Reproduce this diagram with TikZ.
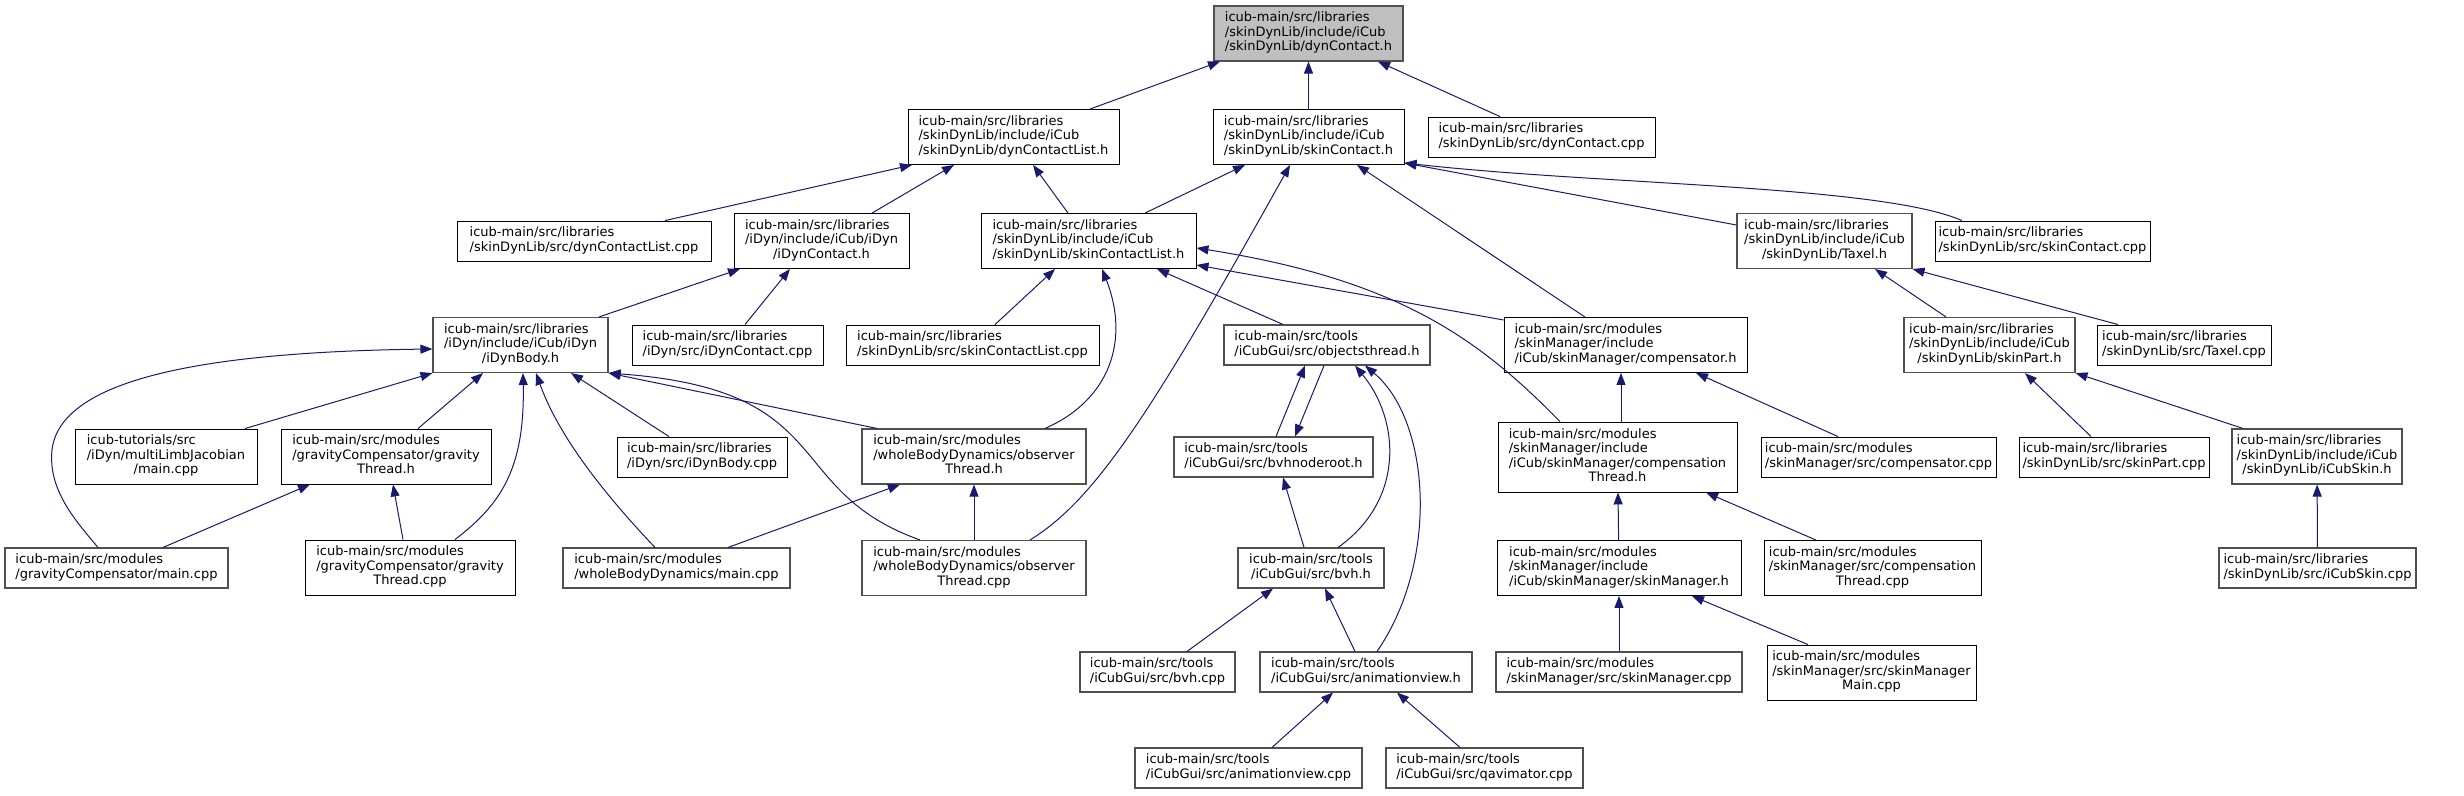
\documentclass[tikz,border=0pt]{standalone}
\usepackage{fontspec}
\setmainfont{DejaVu Sans}
\usepackage{tikz}
\usetikzlibrary{arrows.meta}
\definecolor{incblue}{HTML}{191970}
\definecolor{incgrey}{HTML}{505050}
\definecolor{incroot}{HTML}{BFBFBF}
\newcommand{\ftwo}[2]{\begin{tabular}{@{}l@{}}#1\\\multicolumn{1}{@{}c@{}}{#2}\end{tabular}}
\newcommand{\fthree}[3]{\begin{tabular}{@{}l@{}}#1\\#2\\\multicolumn{1}{@{}c@{}}{#3}\end{tabular}}
\newcommand{\ffour}[4]{\begin{tabular}{@{}l@{}}#1\\#2\\#3\\\multicolumn{1}{@{}c@{}}{#4}\end{tabular}}
\tikzset{
 inc file/.style={draw=black,line width=0.9pt,fill=white,inner sep=0pt,
                  minimum height=40pt,font=\fontsize{13}{14.5}\selectfont},
 inc tall/.style={inc file,minimum height=55pt},
 inc taller/.style={inc file,minimum height=70pt},
 inc grey/.style={draw=incgrey,line width=1.1pt},
 inc root/.style={fill=incroot,draw=incgrey,line width=1.1pt},
 inc edge/.style={draw=incblue,line width=1pt,arrows={Triangle[length=12pt,width=9pt]-}}
}
\begin{document}
\begin{tikzpicture}[x=1pt,y=-1pt]
 \useasboundingbox (0,0) rectangle (2464,795);

 \node[inc tall,inc root,minimum width=189pt] (dynContactH) at (1308.5,33.5) {\fthree{icub-main/src/libraries}{/skinDynLib/include/iCub}{/skinDynLib/dynContact.h}};

 \node[inc tall,minimum width=211pt] (dynContactListH) at (1013.5,137) {\fthree{icub-main/src/libraries}{/skinDynLib/include/iCub}{/skinDynLib/dynContactList.h}};
 \node[inc tall,minimum width=191pt] (skinContactH) at (1308.5,137) {\fthree{icub-main/src/libraries}{/skinDynLib/include/iCub}{/skinDynLib/skinContact.h}};
 \node[inc file,minimum width=227pt] (dynContactCpp) at (1541.5,137) {\ftwo{icub-main/src/libraries}{/skinDynLib/src/dynContact.cpp}};

 \node[inc file,minimum width=254pt] (dynContactListCpp) at (584,241) {\ftwo{icub-main/src/libraries}{/skinDynLib/src/dynContactList.cpp}};
 \node[inc tall,minimum width=175pt] (iDynContactH) at (821.5,241) {\fthree{icub-main/src/libraries}{/iDyn/include/iCub/iDyn}{/iDynContact.h}};
 \node[inc tall,minimum width=215pt] (skinContactListH) at (1088.5,241) {\fthree{icub-main/src/libraries}{/skinDynLib/include/iCub}{/skinDynLib/skinContactList.h}};
 \node[inc tall,inc grey,minimum width=175pt] (taxelH) at (1824.5,241) {\fthree{icub-main/src/libraries}{/skinDynLib/include/iCub}{/skinDynLib/Taxel.h}};
 \node[inc file,minimum width=215pt] (skinContactCpp) at (2042.5,241) {\ftwo{icub-main/src/libraries}{/skinDynLib/src/skinContact.cpp}};

 \node[inc tall,inc grey,minimum width=175pt] (iDynBodyH) at (520.5,345) {\fthree{icub-main/src/libraries}{/iDyn/include/iCub/iDyn}{/iDynBody.h}};
 \node[inc file,minimum width=191pt] (iDynContactCpp) at (727.5,345) {\ftwo{icub-main/src/libraries}{/iDyn/src/iDynContact.cpp}};
 \node[inc file,minimum width=253pt] (skinContactListCpp) at (972.5,345) {\ftwo{icub-main/src/libraries}{/skinDynLib/src/skinContactList.cpp}};
 \node[inc file,inc grey,minimum width=206pt] (objectsThreadH) at (1327,345) {\ftwo{icub-main/src/tools}{/iCubGui/src/objectsthread.h}};
 \node[inc tall,minimum width=243pt] (compensatorH) at (1625.5,345) {\fthree{icub-main/src/modules}{/skinManager/include}{/iCub/skinManager/compensator.h}};
 \node[inc tall,inc grey,minimum width=171pt] (skinPartH) at (1989.5,345) {\fthree{icub-main/src/libraries}{/skinDynLib/include/iCub}{/skinDynLib/skinPart.h}};
 \node[inc file,minimum width=174pt] (taxelCpp) at (2184,345) {\ftwo{icub-main/src/libraries}{/skinDynLib/src/Taxel.cpp}};

 \node[inc tall,minimum width=182pt] (jacobianMain) at (166,456.5) {\fthree{icub-tutorials/src}{/iDyn/multiLimbJacobian}{/main.cpp}};
 \node[inc tall,minimum width=210pt] (gravityThreadH) at (386,456.5) {\fthree{icub-main/src/modules}{/gravityCompensator/gravity}{Thread.h}};
 \node[inc file,minimum width=170pt] (iDynBodyCpp) at (702,457) {\ftwo{icub-main/src/libraries}{/iDyn/src/iDynBody.cpp}};
 \node[inc tall,inc grey,minimum width=224pt] (observerThreadH) at (974,456.5) {\fthree{icub-main/src/modules}{/wholeBodyDynamics/observer}{Thread.h}};
 \node[inc file,inc grey,minimum width=199pt] (bvhNodeRootH) at (1273.5,457) {\ftwo{icub-main/src/tools}{/iCubGui/src/bvhnoderoot.h}};
 \node[inc taller,minimum width=239pt] (compThreadH) at (1617.5,457) {\ffour{icub-main/src/modules}{/skinManager/include}{/iCub/skinManager/compensation}{Thread.h}};
 \node[inc file,minimum width=235pt] (compensatorCpp) at (1878.5,457) {\ftwo{icub-main/src/modules}{/skinManager/src/compensator.cpp}};
 \node[inc file,minimum width=190pt] (skinPartCpp) at (2114,457) {\ftwo{icub-main/src/libraries}{/skinDynLib/src/skinPart.cpp}};
 \node[inc tall,inc grey,minimum width=170pt] (iCubSkinH) at (2317,456.5) {\fthree{icub-main/src/libraries}{/skinDynLib/include/iCub}{/skinDynLib/iCubSkin.h}};

 \node[inc file,inc grey,minimum width=223pt] (gravityMain) at (116.5,568) {\ftwo{icub-main/src/modules}{/gravityCompensator/main.cpp}};
 \node[inc tall,minimum width=210pt] (gravityThreadCpp) at (410,567.5) {\fthree{icub-main/src/modules}{/gravityCompensator/gravity}{Thread.cpp}};
 \node[inc file,inc grey,minimum width=227pt] (wbdMain) at (676.5,568) {\ftwo{icub-main/src/modules}{/wholeBodyDynamics/main.cpp}};
 \node[inc tall,inc grey,minimum width=224pt] (observerThreadCpp) at (974,568) {\fthree{icub-main/src/modules}{/wholeBodyDynamics/observer}{Thread.cpp}};
 \node[inc file,inc grey,minimum width=146pt] (bvhH) at (1311,568) {\ftwo{icub-main/src/tools}{/iCubGui/src/bvh.h}};
 \node[inc tall,minimum width=244pt] (skinManagerH) at (1619,568) {\fthree{icub-main/src/modules}{/skinManager/include}{/iCub/skinManager/skinManager.h}};
 \node[inc tall,minimum width=217pt] (compThreadCpp) at (1872.5,568) {\fthree{icub-main/src/modules}{/skinManager/src/compensation}{Thread.cpp}};
 \node[inc file,inc grey,minimum width=197pt] (iCubSkinCpp) at (2317.5,568) {\ftwo{icub-main/src/libraries}{/skinDynLib/src/iCubSkin.cpp}};

 \node[inc file,inc grey,minimum width=155pt] (bvhCpp) at (1157.5,672) {\ftwo{icub-main/src/tools}{/iCubGui/src/bvh.cpp}};
 \node[inc file,inc grey,minimum width=212pt] (animViewH) at (1366,672) {\ftwo{icub-main/src/tools}{/iCubGui/src/animationview.h}};
 \node[inc file,inc grey,minimum width=246pt] (skinManagerCpp) at (1619,672) {\ftwo{icub-main/src/modules}{/skinManager/src/skinManager.cpp}};
 \node[inc tall,minimum width=209pt] (skinManagerMain) at (1871.5,672.5) {\fthree{icub-main/src/modules}{/skinManager/src/skinManager}{Main.cpp}};

 \node[inc file,inc grey,minimum width=227pt] (animViewCpp) at (1248.5,768) {\ftwo{icub-main/src/tools}{/iCubGui/src/animationview.cpp}};
 \node[inc file,inc grey,minimum width=197pt] (qavimatorCpp) at (1484.5,768) {\ftwo{icub-main/src/tools}{/iCubGui/src/qavimator.cpp}};

 \draw[inc edge] ([xshift=-88.5pt]dynContactH.south) -- ([xshift=76.5pt]dynContactListH.north);
 \draw[inc edge] (dynContactH) -- (skinContactH);
 \draw[inc edge] ([xshift=69.5pt]dynContactH.south) -- ([xshift=-41.5pt]dynContactCpp.north);
 \draw[inc edge] ([xshift=-101.5pt]dynContactListH.south) -- ([xshift=81pt]dynContactListCpp.north);
 \draw[inc edge] ([xshift=-59.5pt]dynContactListH.south) -- ([xshift=50.5pt]iDynContactH.north);
 \draw[inc edge] ([xshift=19.5pt]dynContactListH.south) -- ([xshift=-20.5pt]skinContactListH.north);
 \draw[inc edge] ([xshift=-63.5pt]skinContactH.south) -- ([xshift=56.5pt]skinContactListH.north);
 \draw[inc edge] ([xshift=-18.5pt]skinContactH.south) .. controls (1151,414) and (1095,500) .. ([xshift=56pt]observerThreadCpp.north);
 \draw[inc edge] ([xshift=48.5pt]skinContactH.south) -- ([xshift=-40.5pt]compensatorH.north);
 \draw[inc edge] ([yshift=2pt]skinContactH.south east) -- ([yshift=16pt]taxelH.west);
 \draw[inc edge] ([yshift=2pt]skinContactH.south east) .. controls (1600,185) and (1880,185) .. ([xshift=-80.5pt]skinContactCpp.north);
 \draw[inc edge] ([xshift=-33.5pt]skinContactListH.south) -- ([xshift=22.5pt]skinContactListCpp.north);
 \draw[inc edge] ([xshift=13.5pt]skinContactListH.south) .. controls (1130,340) and (1110,400) .. ([xshift=71pt]observerThreadH.north);
 \draw[inc edge] ([xshift=68.5pt]skinContactListH.south) -- ([xshift=-44pt]objectsThreadH.north);
 \draw[inc edge] ([yshift=-24pt]skinContactListH.east) -- ([yshift=25pt]compensatorH.west);
 \draw[inc edge] ([yshift=-7pt]skinContactListH.east) .. controls (1400,280) and (1480,340) .. ([xshift=-57.5pt]compThreadH.north);
 \draw[inc edge] ([xshift=-81.5pt]iDynContactH.south) -- ([xshift=78.5pt]iDynBodyH.north);
 \draw[inc edge] ([xshift=-31.5pt]iDynContactH.south) -- ([xshift=17.5pt]iDynContactCpp.north);
 \draw[inc edge] ([yshift=-4pt]iDynBodyH.west) .. controls (200,352) and (60,380) .. (52,450) .. controls (48,490) and (75,520) .. ([xshift=-18.5pt]gravityMain.north);
 \draw[inc edge] (iDynBodyH.south west) -- ([xshift=79pt]jacobianMain.north);
 \draw[inc edge] ([xshift=-37.5pt]iDynBodyH.south) -- ([xshift=32pt]gravityThreadH.north);
 \draw[inc edge] ([xshift=2.5pt]iDynBodyH.south) .. controls (525,470) and (500,505) .. ([xshift=45pt]gravityThreadCpp.north);
 \draw[inc edge] ([xshift=15.5pt]iDynBodyH.south) .. controls (560,440) and (610,500) .. ([xshift=-21.5pt]wbdMain.north);
 \draw[inc edge] ([xshift=50.5pt]iDynBodyH.south) -- ([xshift=-33pt]iDynBodyCpp.north);
 \draw[inc edge] (iDynBodyH.south east) -- ([xshift=-97pt]observerThreadH.north);
 \draw[inc edge] (iDynBodyH.south east) .. controls (840,390) and (780,490) .. ([xshift=-54pt]observerThreadCpp.north);
 \draw[inc edge] ([xshift=-76pt]gravityThreadH.south) -- ([xshift=46.5pt]gravityMain.north);
 \draw[inc edge] ([xshift=7pt]gravityThreadH.south) -- ([xshift=-7pt]gravityThreadCpp.north);
 \draw[inc edge] ([xshift=-74pt]observerThreadH.south) -- ([xshift=51.5pt]wbdMain.north);
 \draw[inc edge] (observerThreadH) -- (observerThreadCpp);
 \draw[inc edge] ([xshift=-22pt]objectsThreadH.south) -- ([xshift=2.5pt]bvhNodeRootH.north);
 \draw[inc edge] ([xshift=21.5pt]bvhNodeRootH.north) -- ([xshift=-3pt]objectsThreadH.south);
 \draw[inc edge] ([xshift=28pt]objectsThreadH.south) .. controls (1400,420) and (1405,500) .. ([xshift=27pt]bvhH.north);
 \draw[inc edge] ([xshift=38pt]objectsThreadH.south) .. controls (1430,420) and (1440,560) .. ([xshift=11pt]animViewH.north);
 \draw[inc edge] ([xshift=9.5pt]bvhNodeRootH.south) -- ([xshift=-7pt]bvhH.north);
 \draw[inc edge] ([xshift=-38pt]bvhH.south) -- ([xshift=29.5pt]bvhCpp.north);
 \draw[inc edge] ([xshift=14pt]bvhH.south) -- ([xshift=-11pt]animViewH.north);
 \draw[inc edge] ([xshift=-33pt]animViewH.south) -- ([xshift=23.5pt]animViewCpp.north);
 \draw[inc edge] ([xshift=31pt]animViewH.south) -- ([xshift=-24.5pt]qavimatorCpp.north);
 \draw[inc edge] ([xshift=-4.5pt]compensatorH.south) -- ([xshift=3.5pt]compThreadH.north);
 \draw[inc edge] ([xshift=70.5pt]compensatorH.south) -- ([xshift=-40.5pt]compensatorCpp.north);
 \draw[inc edge] (compThreadH) -- (skinManagerH);
 \draw[inc edge] ([xshift=88.5pt]compThreadH.south) -- ([xshift=-56.5pt]compThreadCpp.north);
 \draw[inc edge] (skinManagerH) -- (skinManagerCpp);
 \draw[inc edge] ([xshift=73pt]skinManagerH.south) -- ([xshift=-63.5pt]skinManagerMain.north);
 \draw[inc edge] ([xshift=50.5pt]taxelH.south) -- ([xshift=-43.5pt]skinPartH.north);
 \draw[inc edge] (taxelH.south east) -- ([xshift=-66pt]taxelCpp.north);
 \draw[inc edge] ([xshift=35.5pt]skinPartH.south) -- ([xshift=-23pt]skinPartCpp.north);
 \draw[inc edge] (skinPartH.south east) -- ([xshift=-74pt]iCubSkinH.north);
 \draw[inc edge] (iCubSkinH) -- (iCubSkinCpp);
\end{tikzpicture}
\end{document}
